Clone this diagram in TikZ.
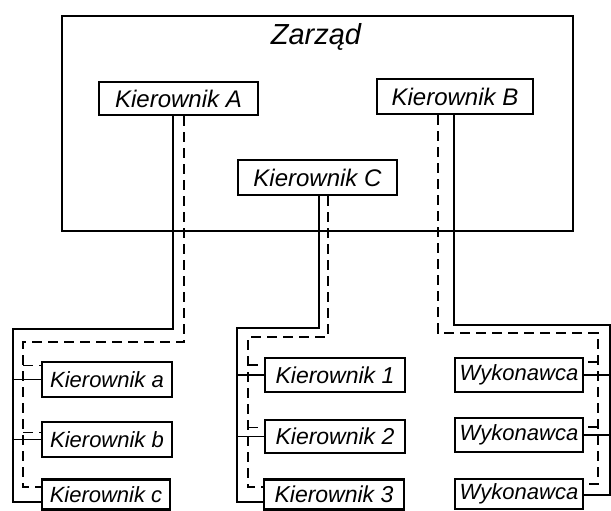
\documentclass[tikz,border=0pt]{standalone}
\usepackage{fontspec}
\setmainfont{Liberation Sans}
\begin{document}
\begin{tikzpicture}[x=1pt,y=-1pt,
  box/.style={draw, line width=2.5pt, inner sep=0pt, font=\fontsize{24}{26}\selectfont\itshape},
  sbox/.style={box, font=\fontsize{22}{24}\selectfont\itshape},
  mbox/.style={box, font=\fontsize{23}{25}\selectfont\itshape},
  big/.style={draw, line width=2.2pt, inner sep=0pt},
  title/.style={inner sep=0pt, font=\fontsize{29}{32}\selectfont\itshape},
  conn/.style={line width=1.6pt},
  dconn/.style={line width=1.6pt, dash pattern=on 10pt off 6pt}]
\useasboundingbox (0,0) rectangle (611,511);
% management board
\node[big, minimum width=511pt, minimum height=215pt] (zarzad) at (317.5,123.5) {};
\node[title] (zt) at (316,37) {Zarząd};
\node[box, minimum width=159pt, minimum height=33pt] (kA) at (178.5,98.5) {Kierownik A};
\node[box, minimum width=156pt, minimum height=35pt] (kB) at (455,96.5) {Kierownik B};
\node[box, minimum width=159pt, minimum height=35pt] (kC) at (317.5,177.5) {Kierownik C};
% left group
\node[sbox, minimum width=130pt, minimum height=35pt] (ka) at (107,379.5) {Kierownik a};
\node[sbox, minimum width=130pt, minimum height=35pt] (kb) at (107,439.5) {Kierownik b};
\node[sbox, minimum width=128pt, minimum height=30pt] (kc) at (106,494.5) {Kierownik c};
% middle group
\node[mbox, minimum width=140pt, minimum height=34pt] (k1) at (335,375) {Kierownik 1};
\node[mbox, minimum width=140pt, minimum height=33pt] (k2) at (335,436.5) {Kierownik 2};
\node[mbox, minimum width=140pt, minimum height=30pt] (k3) at (334,494.5) {Kierownik 3};
% right group
\node[sbox, minimum width=128pt, minimum height=34pt] (w1) at (519,375) {Wykonawca};
\node[sbox, minimum width=128pt, minimum height=34pt] (w2) at (519,435) {Wykonawca};
\node[sbox, minimum width=128pt, minimum height=30pt] (w3) at (519,494) {Wykonawca};
% corner coordinates
\coordinate (sa1) at (173,329); \coordinate (sa2) at (13,329); \coordinate (sa3) at (13,502);
\coordinate (da1) at (184,342); \coordinate (da2) at (23,342); \coordinate (da3) at (23,487);
\coordinate (sc1) at (319,328); \coordinate (sc2) at (237,328); \coordinate (sc3) at (237,502);
\coordinate (dc1) at (328,337); \coordinate (dc2) at (248,337); \coordinate (dc3) at (248,487);
\coordinate (sb1) at (454,325); \coordinate (sb2) at (610,325); \coordinate (sb3) at (610,495);
\coordinate (db1) at (438,333); \coordinate (db2) at (598,333); \coordinate (db3) at (598,484);
% left group connectors
\draw[conn] (kA.south -| sa1) -- (sa1) -- (sa2) -- (sa3) -- (sa3 -| kc.west);
\draw[conn] (ka.west -| sa2) -- (ka.west);
\draw[conn] (kb.west -| sa2) -- (kb.west);
\draw[dconn] (kA.south -| da1) -- (da1) -- (da2) -- (da3) -- (da3 -| kc.west);
\draw[dconn] ([yshift=14pt]ka.west -| da2) -- ([yshift=14pt]ka.west);
\draw[dconn] ([yshift=7pt]kb.west -| da2) -- ([yshift=7pt]kb.west);
% middle group connectors
\draw[conn] (kC.south -| sc1) -- (sc1) -- (sc2) -- (sc3) -- (sc3 -| k3.west);
\draw[conn] (k1.west -| sc2) -- (k1.west);
\draw[conn] (k2.west -| sc2) -- (k2.west);
\draw[dconn] (kC.south -| dc1) -- (dc1) -- (dc2) -- (dc3) -- (dc3 -| k3.west);
\draw[dconn] ([yshift=10pt]k1.west -| dc2) -- ([yshift=10pt]k1.west);
\draw[dconn] ([yshift=9pt]k2.west -| dc2) -- ([yshift=9pt]k2.west);
% right group connectors
\draw[conn] (kB.south -| sb1) -- (sb1) -- (sb2) -- (sb3) -- (sb3 -| w3.east);
\draw[conn] (w1.east -| sb2) -- (w1.east);
\draw[conn] (w2.east -| sb2) -- (w2.east);
\draw[dconn] (kB.south -| db1) -- (db1) -- (db2) -- (db3) -- (db3 -| w3.east);
\draw[dconn] ([yshift=13pt]w1.east -| db2) -- ([yshift=13pt]w1.east);
\draw[dconn] ([yshift=8pt]w2.east -| db2) -- ([yshift=8pt]w2.east);
\end{tikzpicture}
\end{document}
